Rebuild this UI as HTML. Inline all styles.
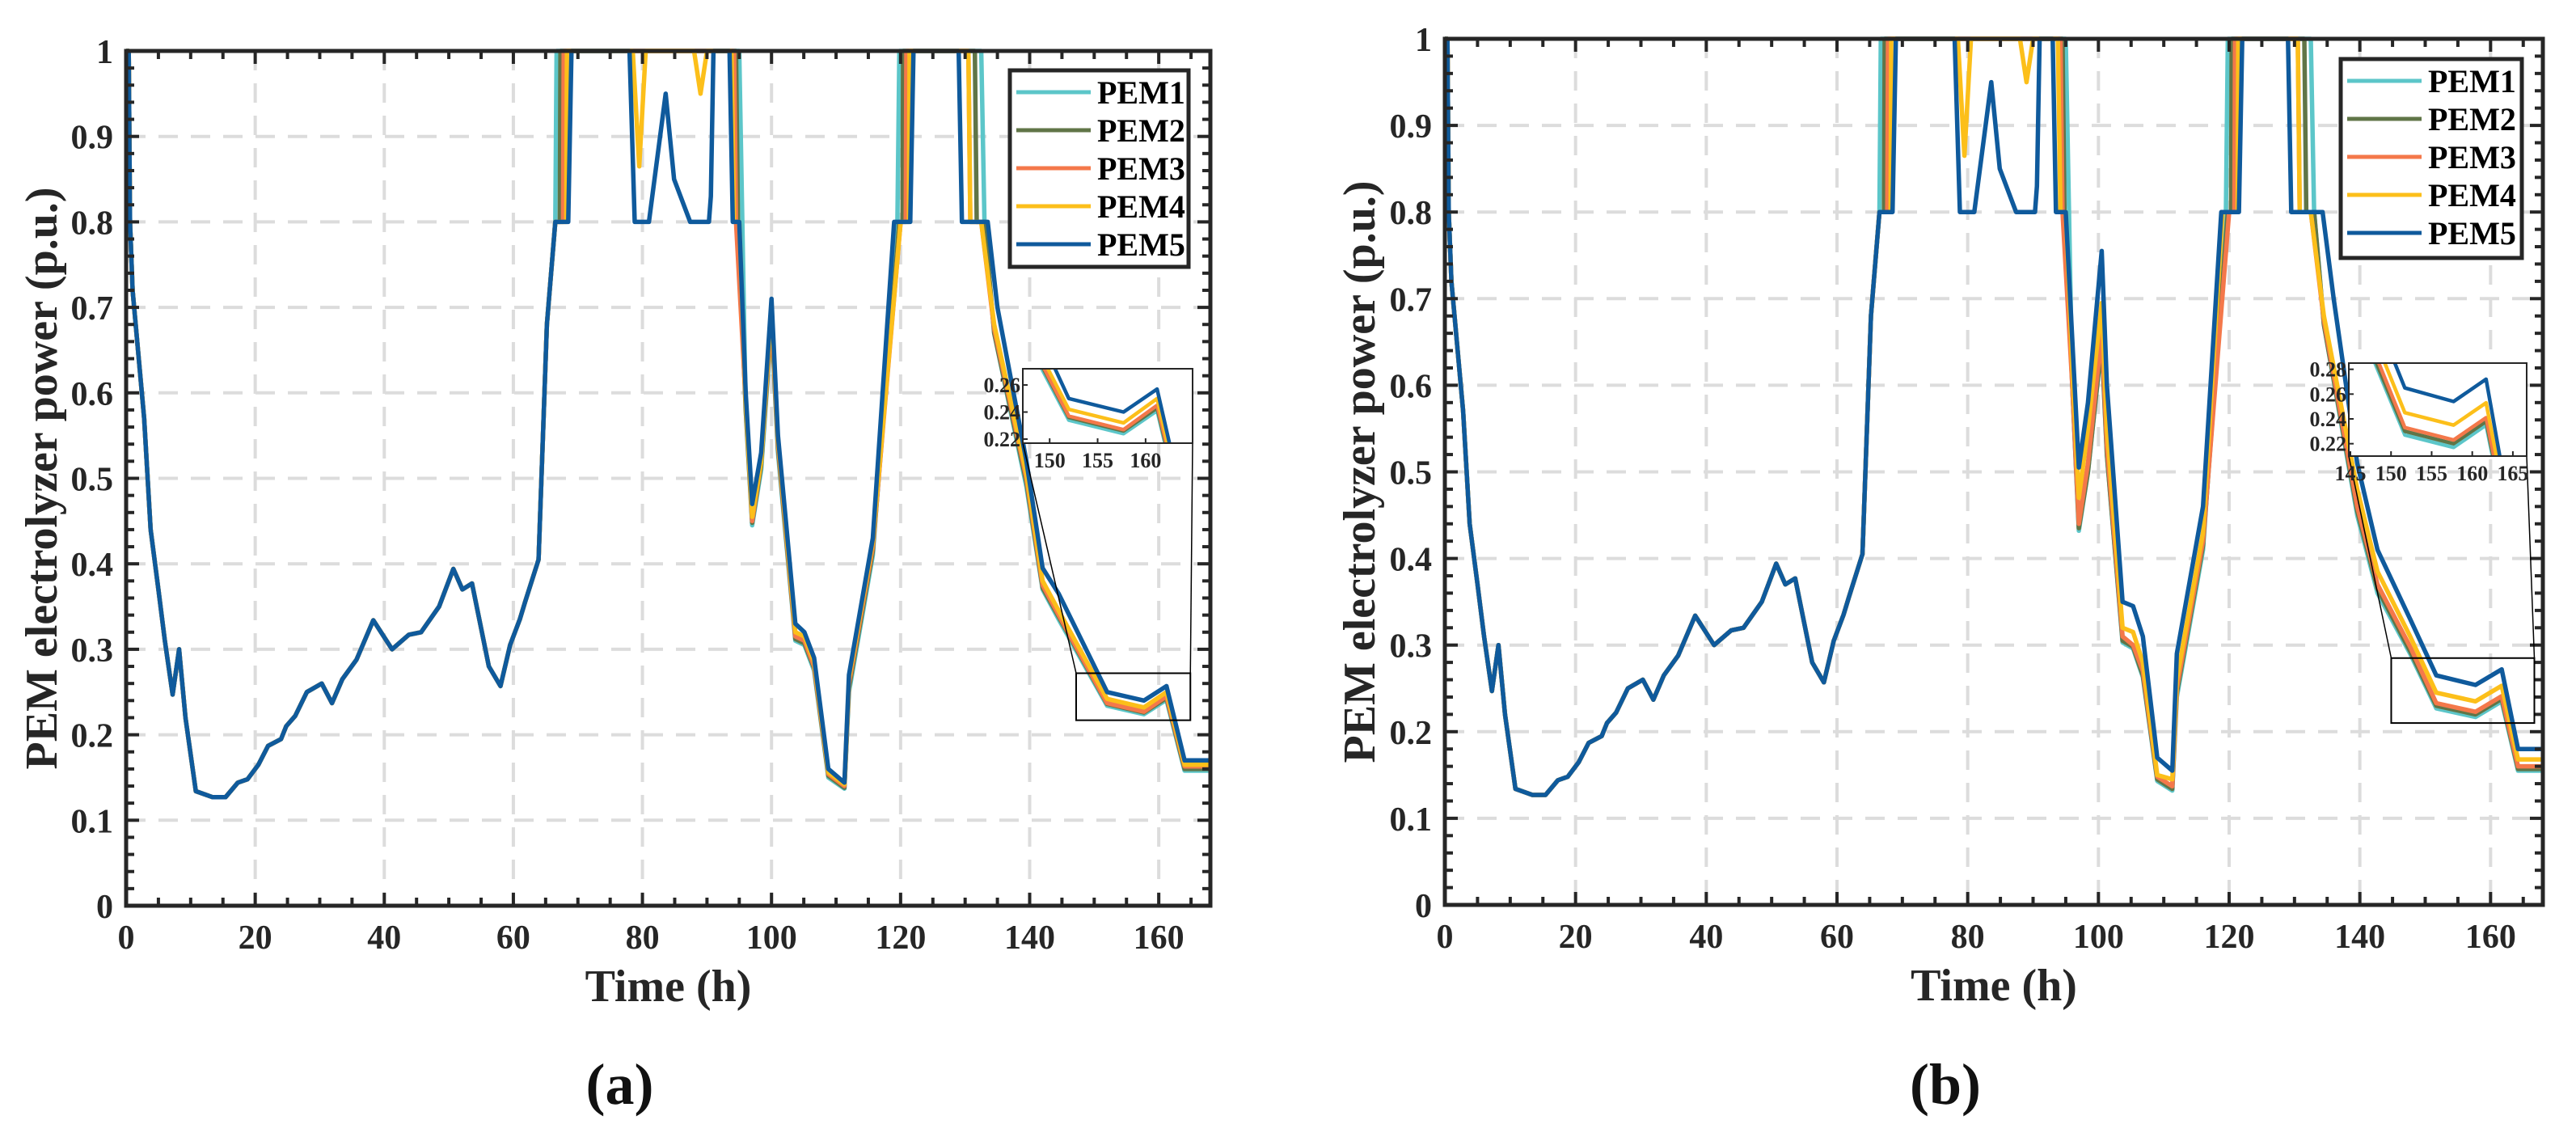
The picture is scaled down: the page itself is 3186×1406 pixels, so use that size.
<!DOCTYPE html>
<html><head><meta charset="utf-8"><style>
html,body{margin:0;padding:0;background:#fff;}
svg{display:block;font-family:"Liberation Serif",serif;}
</style></head><body>
<svg id="fig" width="3186" height="1406" viewBox="0 0 3186 1406" xmlns="http://www.w3.org/2000/svg"></svg>
<script>
const seriesNames = ["PEM1","PEM2","PEM3","PEM4","PEM5"];
const seriesColors = ["#5CC6C9","#607547","#F4784A","#FCBF1A","#0F5A9C"];
const xTicks = [0,20,40,60,80,100,120,140,160];
const yTicks = [0,0.1,0.2,0.3,0.4,0.5,0.6,0.7,0.8,0.9,1];
const yTickLabels = ["0","0.1","0.2","0.3","0.4","0.5","0.6","0.7","0.8","0.9","1"];
const insetTicksA_x = [150,155,160];
const insetTicksA_y = [0.22,0.24,0.26];
const insetTicksB_x = [145,150,155,160,165];
const insetTicksB_y = [0.22,0.24,0.26,0.28];

const baseHead = [[0,1],[0.4,1],[0.6,0.8],[1,0.72],[2.8,0.57],[3.8,0.44],[5,0.37],[6,0.31],[7.2,0.247],[8.2,0.30],[9.2,0.22],[10.8,0.134],[13.4,0.127],[15.4,0.127],[17.3,0.144],[18.8,0.148],[20.5,0.165],[22,0.187],[24,0.195],[24.8,0.21],[26.2,0.222],[28,0.25],[30.3,0.26],[31.9,0.237],[33.5,0.265],[35.7,0.288],[38.3,0.334],[41.2,0.30],[43.8,0.317],[45.7,0.32],[48.5,0.35],[50.7,0.394],[52.1,0.37],[53.6,0.377],[56.2,0.28],[58,0.257],[59.5,0.305],[61,0.335],[61.8,0.355],[63.9,0.405],[65.2,0.68],[66.5,0.8]];

const a_pem1 = [[66.7,1],[95,1],[96,0.58],[97,0.445],[98.4,0.51],[100,0.68],[101,0.53],[103.7,0.31],[105.1,0.305],[106.6,0.275],[108.8,0.15],[111.3,0.137],[112,0.25],[115.7,0.41],[119.5,0.8],[119.8,1],[132.5,1],[133,0.8],[134.5,0.67],[139.5,0.49],[142,0.37],[144.5,0.335],[152,0.234],[157.7,0.224],[161.2,0.241],[164,0.158],[168,0.158]];
const a_pem2 = [[67.2,0.8],[67.3,1],[94.5,1],[94.8,0.8],[96,0.58],[97,0.448],[98.4,0.515],[100,0.685],[101,0.535],[103.7,0.312],[105.1,0.307],[106.6,0.278],[108.8,0.152],[111.3,0.138],[112,0.255],[115.7,0.415],[119.8,0.8],[120.3,0.8],[120.4,1],[131.5,1],[131.8,0.8],[133,0.8],[134.5,0.67],[139.5,0.495],[142,0.372],[144.5,0.338],[152,0.236],[157.7,0.226],[161.2,0.243],[164,0.16],[168,0.16]];
const a_pem3 = [[67.7,0.8],[67.8,1],[94.2,1],[94.5,0.8],[96,0.59],[97,0.45],[98.4,0.52],[100,0.69],[101,0.54],[103.7,0.315],[105.1,0.31],[106.6,0.28],[108.8,0.154],[111.3,0.14],[112,0.26],[115.7,0.42],[120,0.8],[120.8,0.8],[120.9,1],[130.5,1],[130.8,0.8],[132.5,0.8],[134.5,0.675],[139.5,0.5],[142,0.375],[144.5,0.34],[152,0.237],[157.7,0.227],[161.2,0.245],[164,0.163],[168,0.163]];
const a_pem4 = [[68.2,0.8],[68.3,1],[78.5,1],[79.5,0.865],[80.5,1],[88,1],[89,0.95],[90,1],[93.8,1],[94.2,0.8],[95,0.8],[96,0.59],[97,0.455],[98.4,0.52],[100,0.7],[101,0.545],[103.7,0.32],[105.1,0.315],[106.6,0.285],[108.8,0.156],[111.3,0.142],[112,0.265],[115.7,0.425],[120,0.8],[121.3,0.8],[121.4,1],[130.5,1],[130.8,0.8],[132.5,0.8],[134.5,0.68],[139.5,0.505],[142,0.38],[144.5,0.345],[152,0.242],[157.7,0.232],[161.2,0.25],[164,0.165],[168,0.165]];
const a_pem5 = [[68.5,0.8],[69,1],[78,1],[78.8,0.8],[81,0.8],[83.6,0.95],[84.9,0.85],[87.4,0.8],[90.3,0.8],[90.6,0.83],[91,1],[93.5,1],[94,0.8],[95,0.8],[96,0.6],[97,0.47],[98.4,0.53],[100,0.71],[101,0.55],[103.7,0.33],[105.1,0.32],[106.6,0.29],[108.8,0.16],[111.3,0.144],[112,0.27],[115.7,0.43],[119,0.8],[121.5,0.8],[122,1],[129,1],[129.5,0.8],[133.5,0.8],[135,0.7],[139.5,0.52],[142,0.395],[144.5,0.365],[152,0.25],[157.7,0.24],[161.2,0.257],[164,0.17],[168,0.17]];

const b_pem1 = [[66.7,1],[95,1],[96,0.6],[97,0.432],[98.4,0.5],[100.5,0.648],[101.3,0.52],[103.7,0.303],[105.3,0.296],[106.8,0.263],[109,0.143],[111.3,0.132],[112,0.24],[116,0.41],[119.5,0.8],[119.8,1],[132.5,1],[133,0.8],[134.5,0.67],[139.6,0.45],[142.7,0.36],[147.7,0.29],[151.7,0.227],[157.7,0.217],[161.7,0.235],[164.2,0.155],[168,0.155]];
const b_pem2 = [[67.2,0.8],[67.3,1],[94.5,1],[94.8,0.8],[96,0.6],[97,0.435],[98.4,0.5],[100.5,0.65],[101.3,0.52],[103.7,0.305],[105.3,0.298],[106.8,0.265],[109,0.145],[111.3,0.134],[112,0.245],[116,0.415],[119.8,0.8],[120.3,0.8],[120.4,1],[131.5,1],[131.8,0.8],[133,0.8],[134.5,0.67],[139.6,0.455],[142.7,0.365],[147.7,0.293],[151.7,0.23],[157.7,0.22],[161.7,0.238],[164.2,0.157],[168,0.157]];
const b_pem3 = [[67.7,0.8],[67.8,1],[94.2,1],[94.5,0.8],[96,0.6],[97,0.44],[98.4,0.51],[100.5,0.66],[101.3,0.53],[103.7,0.31],[105.3,0.30],[106.8,0.27],[109,0.148],[111.3,0.137],[112,0.25],[116,0.42],[120,0.8],[120.8,0.8],[120.9,1],[130.5,1],[130.8,0.8],[132.5,0.8],[134.5,0.675],[139.6,0.46],[142.7,0.37],[147.7,0.298],[151.7,0.233],[157.7,0.223],[161.7,0.241],[164.2,0.16],[168,0.16]];
const b_pem4 = [[68.2,0.8],[68.3,1],[78.5,1],[79.5,0.865],[80.5,1],[88,1],[89,0.95],[90,1],[93.8,1],[94.2,0.8],[95,0.8],[96,0.62],[97,0.47],[98.4,0.55],[100.5,0.695],[101.3,0.55],[103.7,0.32],[105.3,0.315],[106.8,0.28],[109,0.15],[111.3,0.145],[112,0.26],[116,0.43],[119,0.8],[121.3,0.8],[121.4,1],[130.5,1],[130.8,0.8],[132.5,0.8],[134.5,0.68],[139.6,0.48],[142.7,0.385],[147.7,0.31],[151.7,0.245],[157.7,0.235],[161.7,0.253],[164.2,0.168],[168,0.168]];
const b_pem5 = [[68.5,0.8],[69,1],[78,1],[78.8,0.8],[81,0.8],[83.6,0.95],[84.9,0.85],[87.4,0.8],[90.3,0.8],[90.6,0.83],[91,1],[93,1],[93.5,0.8],[95,0.8],[97,0.505],[98.4,0.58],[100.5,0.755],[101.3,0.6],[103.7,0.35],[105.3,0.345],[106.8,0.31],[109,0.17],[111.3,0.155],[112,0.29],[116,0.46],[118.8,0.8],[121.5,0.8],[122,1],[129,1],[129.5,0.8],[134.3,0.8],[136,0.7],[139.6,0.51],[142.7,0.41],[147.7,0.33],[151.7,0.265],[157.7,0.254],[161.7,0.272],[164.2,0.18],[168,0.18]];

const panelA = [baseHead.concat(a_pem1), baseHead.concat(a_pem2), baseHead.concat(a_pem3), baseHead.concat(a_pem4), baseHead.concat(a_pem5)];
const panelB = [baseHead.concat(b_pem1), baseHead.concat(b_pem2), baseHead.concat(b_pem3), baseHead.concat(b_pem4), baseHead.concat(b_pem5)];

const NS = "http://www.w3.org/2000/svg";
const svg = document.getElementById("fig");
function mk(tag, attrs, parent){
  const e = document.createElementNS(NS, tag);
  for (const k in attrs) e.setAttribute(k, attrs[k]);
  (parent||svg).appendChild(e);
  return e;
}
let clipId = 0;
function pathD(pts, sx, sy){
  return pts.map((p,i)=>(i?"L":"M")+sx(p[0]).toFixed(1)+","+sy(p[1]).toFixed(1)).join("");
}
function drawPanel(g, data, tag, insetXT, insetYT){
  const sx = v => g.x0 + (v-0)/(168-0)*(g.x1-g.x0);
  const sy = v => g.y1 - v*(g.y1-g.y0);
  const grp = mk("g",{});
  
  
  xTicks.forEach(t=>{ if(t>0){ const l=mk("line",{x1:sx(t),x2:sx(t),y1:g.y0,y2:g.y1,stroke:"#dcdcdc","stroke-width":4,"stroke-dasharray":"24 16"},grp);
      }});
  yTicks.forEach(t=>{ if(t>0 && t<1){ const l=mk("line",{x1:g.x0,x2:g.x1,y1:sy(t),y2:sy(t),stroke:"#dcdcdc","stroke-width":4,"stroke-dasharray":"24 16"},grp);
      }});
  const cid = "clip"+(clipId++);
  const cp = mk("clipPath",{id:cid},grp);
  mk("rect",{x:g.x0,y:g.y0-3,width:g.x1-g.x0,height:g.y1-g.y0+3},cp);
  const lines = mk("g",{"clip-path":"url(#"+cid+")"},grp);
  data.forEach((s,i)=>{
    const p = mk("path",{d:pathD(s,sx,sy),fill:"none",stroke:seriesColors[i],"stroke-width":5.5,"stroke-linejoin":"round"},lines);
    
    
  });
  for(let t=0;t<=168;t+=5){ const len = (t%20===0)?16:10;
    mk("line",{x1:sx(t),x2:sx(t),y1:g.y1,y2:g.y1-len,stroke:"#262626","stroke-width":4},grp);
    mk("line",{x1:sx(t),x2:sx(t),y1:g.y0,y2:g.y0+len,stroke:"#262626","stroke-width":4},grp); }
  for(let k=0;k<=50;k++){ const t=k*0.02; const len=(k%5===0)?16:10;
    mk("line",{x1:g.x0,x2:g.x0+len,y1:sy(t),y2:sy(t),stroke:"#262626","stroke-width":4},grp);
    mk("line",{x1:g.x1,x2:g.x1-len,y1:sy(t),y2:sy(t),stroke:"#262626","stroke-width":4},grp); }
  const fr = mk("rect",{x:g.x0,y:g.y0,width:g.x1-g.x0,height:g.y1-g.y0,fill:"none",stroke:"#262626","stroke-width":5},grp);
   
  xTicks.forEach(t=>{ const tx=mk("text",{x:sx(t),y:g.y1+53,"text-anchor":"middle","font-size":42,"font-weight":"bold",fill:"#262626"},grp); tx.textContent=t;
      });
  yTicks.forEach((t,i)=>{ const tx=mk("text",{x:g.x0-16,y:sy(t)+15,"text-anchor":"end","font-size":42,"font-weight":"bold",fill:"#262626"},grp); tx.textContent=yTickLabels[i];
      });
  const xt = mk("text",{x:(g.x0+g.x1)/2,y:g.y1+118,"text-anchor":"middle","font-size":56,"font-weight":"bold",fill:"#262626"},grp);
  xt.textContent="Time (h)";  
  const yx = g.ylabX, yy=(g.y0+g.y1)/2;
  const yt = mk("text",{x:yx,y:yy,"text-anchor":"middle","font-size":56,"font-weight":"bold",fill:"#262626",transform:"rotate(-90 "+yx+" "+yy+")"},grp);
  yt.textContent="PEM electrolyzer power (p.u.)";  
  const cap = mk("text",{x:(g.x0+g.x1)/2-60,y:1365,"text-anchor":"middle","font-size":72,"font-weight":"bold",fill:"#111"},grp);
  cap.textContent="("+tag+")";  
  const zr = g.zoom;
  const rx0=sx(zr.h0), rx1=sx(zr.h1), ry0=sy(zr.v1), ry1=sy(zr.v0);
  const zrect = mk("rect",{x:rx0,y:ry0,width:rx1-rx0,height:ry1-ry0,fill:"none",stroke:"#000","stroke-width":2},grp);
   
  const ins = g.inset;
  mk("line",{x1:ins.x0,y1:ins.y1,x2:rx0,y2:ry0,stroke:"#000","stroke-width":1.5},grp);
  mk("line",{x1:ins.x1,y1:ins.y1,x2:rx1,y2:ry0,stroke:"#000","stroke-width":1.5},grp);
  const ig = mk("g",{},grp);
   
  mk("rect",{x:ins.x0,y:ins.y0,width:ins.x1-ins.x0,height:ins.y1-ins.y0,fill:"#fff"},ig);
  const isx = v => ins.x0 + (v-zr.h0)/(zr.h1-zr.h0)*(ins.x1-ins.x0);
  const isy = v => ins.y1 - (v-zr.v0)/(zr.v1-zr.v0)*(ins.y1-ins.y0);
  const icid = "clip"+(clipId++);
  const icp = mk("clipPath",{id:icid},ig);
  mk("rect",{x:ins.x0,y:ins.y0,width:ins.x1-ins.x0,height:ins.y1-ins.y0},icp);
  const il = mk("g",{"clip-path":"url(#"+icid+")"},ig);
  data.forEach((s,i)=>{
    const p = mk("path",{d:pathD(s,isx,isy),fill:"none",stroke:seriesColors[i],"stroke-width":4.5,"stroke-linejoin":"round"},il);
    
    
  });
  mk("rect",{x:ins.x0,y:ins.y0,width:ins.x1-ins.x0,height:ins.y1-ins.y0,fill:"none",stroke:"#262626","stroke-width":2},ig);
  insetXT.forEach(t=>{ mk("line",{x1:isx(t),x2:isx(t),y1:ins.y1,y2:ins.y1-6,stroke:"#262626","stroke-width":2},ig);
    const tx=mk("text",{x:isx(t),y:ins.y1+30,"text-anchor":"middle","font-size":26,"font-weight":"bold",fill:"#262626"},ig); tx.textContent=t;
      });
  insetYT.forEach(t=>{ mk("line",{x1:ins.x0,x2:ins.x0+6,y1:isy(t),y2:isy(t),stroke:"#262626","stroke-width":2},ig);
    const tx=mk("text",{x:ins.x0-3,y:isy(t)+9,"text-anchor":"end","font-size":26,"font-weight":"bold",fill:"#262626"},ig); tx.textContent=t.toFixed(2);
      });
  const L = g.legend;
  const lg = mk("g",{},grp);
   
  mk("rect",{x:L.x0,y:L.y0,width:L.x1-L.x0,height:L.y1-L.y0,fill:"#fff",stroke:"#262626","stroke-width":5},lg);
  seriesNames.forEach((n,i)=>{
    const yy2 = L.y0+27+i*47;
    const ln = mk("line",{x1:L.x0+8,x2:L.x0+100,y1:yy2,y2:yy2,stroke:seriesColors[i],"stroke-width":5},lg);
     
    const tx = mk("text",{x:L.x0+108,y:yy2+14,"font-size":40,"font-weight":"bold",fill:"#000"},lg); tx.textContent=n;
     
  });
}
drawPanel({x0:156,x1:1497,y0:63,y1:1120,ylabX:70,
  zoom:{h0:147.2,h1:164.9,v0:0.217,v1:0.272},
  inset:{x0:1265,x1:1475,y0:456,y1:548},
  legend:{x0:1249,x1:1470,y0:87,y1:330}}, panelA, "a", insetTicksA_x, insetTicksA_y);
drawPanel({x0:1787,x1:3145,y0:48,y1:1119,ylabX:1700,
  zoom:{h0:144.8,h1:166.7,v0:0.21,v1:0.285},
  inset:{x0:2905,x1:3125,y0:449,y1:564},
  legend:{x0:2895,x1:3119,y0:73,y1:319}}, panelB, "b", insetTicksB_x, insetTicksB_y);
</script>
</body></html>
